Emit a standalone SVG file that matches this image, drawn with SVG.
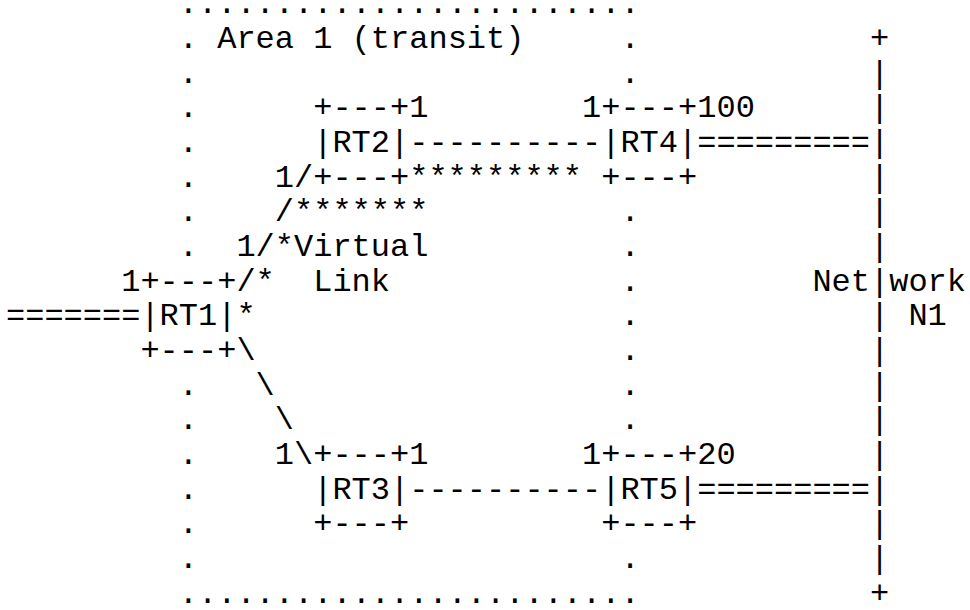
<svg xmlns="http://www.w3.org/2000/svg" width="970" height="610" viewBox="0 0 970 610" xml:space="preserve">
<style>
text { font-family: "Liberation Mono", "DejaVu Sans Mono", monospace; font-size: 32px; fill: #000; white-space: pre; }
</style>
<rect x="0" y="0" width="970" height="610" fill="#fff"/>
<g id="area1">
  <text x="178.8" y="13.3">........................</text>
  <text x="178.8" y="602.52">........................</text>
  <text x="178.8"><tspan x="178.8" y="47.96">.</tspan><tspan x="178.8" y="82.62">.</tspan><tspan x="178.8" y="117.28">.</tspan><tspan x="178.8" y="151.94">.</tspan><tspan x="178.8" y="186.6">.</tspan><tspan x="178.8" y="221.26">.</tspan><tspan x="178.8" y="255.92">.</tspan><tspan x="178.8" y="394.56">.</tspan><tspan x="178.8" y="429.22">.</tspan><tspan x="178.8" y="463.88">.</tspan><tspan x="178.8" y="498.54">.</tspan><tspan x="178.8" y="533.2">.</tspan><tspan x="178.8" y="567.86">.</tspan></text>
  <text x="620.4"><tspan x="620.4" y="47.96">.</tspan><tspan x="620.4" y="82.62">.</tspan><tspan x="620.4" y="221.26">.</tspan><tspan x="620.4" y="255.92">.</tspan><tspan x="620.4" y="290.58">.</tspan><tspan x="620.4" y="325.24">.</tspan><tspan x="620.4" y="359.9">.</tspan><tspan x="620.4" y="394.56">.</tspan><tspan x="620.4" y="429.22">.</tspan><tspan x="620.4" y="567.86">.</tspan></text>
  <text x="217.2" y="47.96">Area 1 (transit)</text>
</g>
<g id="N1">
  <text x="870" y="47.96">+</text>
  <text x="870"><tspan x="870" y="82.62">|</tspan><tspan x="870" y="117.28">|</tspan><tspan x="870" y="151.94">|</tspan><tspan x="870" y="186.6">|</tspan><tspan x="870" y="221.26">|</tspan><tspan x="870" y="255.92">|</tspan><tspan x="870" y="290.58">|</tspan><tspan x="870" y="325.24">|</tspan><tspan x="870" y="359.9">|</tspan><tspan x="870" y="394.56">|</tspan><tspan x="870" y="429.22">|</tspan><tspan x="870" y="463.88">|</tspan><tspan x="870" y="498.54">|</tspan><tspan x="870" y="533.2">|</tspan><tspan x="870" y="567.86">|</tspan></text>
  <text x="870" y="602.52">+</text>
  <text x="812.4" y="290.58">Net</text>
  <text x="889.2" y="290.58">work</text>
  <text x="908.4" y="325.24">N1</text>
</g>
<g id="RT1">
  <text x="121.2" y="290.58">1+---+</text>
  <text x="140.4" y="325.24">|RT1|</text>
  <text x="140.4" y="359.9">+---+</text>
</g>
<g id="RT2">
  <text x="313.2" y="117.28">+---+1</text>
  <text x="313.2" y="151.94">|RT2|</text>
  <text x="274.8" y="186.6">1</text>
  <text x="313.2" y="186.6">+---+</text>
</g>
<g id="RT3">
  <text x="274.8" y="463.88">1</text>
  <text x="313.2" y="463.88">+---+1</text>
  <text x="313.2" y="498.54">|RT3|</text>
  <text x="313.2" y="533.2">+---+</text>
</g>
<g id="RT4">
  <text x="582" y="117.28">1+---+100</text>
  <text x="601.2" y="151.94">|RT4|</text>
  <text x="601.2" y="186.6">+---+</text>
</g>
<g id="RT5">
  <text x="582" y="463.88">1+---+20</text>
  <text x="601.2" y="498.54">|RT5|</text>
  <text x="601.2" y="533.2">+---+</text>
</g>
<g id="connectors">
  <text x="409.2" y="151.94">----------</text>
  <text x="697.2" y="151.94">=========</text>
  <text x="409.2" y="498.54">----------</text>
  <text x="697.2" y="498.54">=========</text>
  <text x="6" y="325.24">=======</text>
  <text x="294" y="186.6">/</text>
  <text x="274.8" y="221.26">/</text>
  <text x="236.4" y="255.92">1/</text>
  <text x="236.4" y="290.58">/</text>
  <text x="236.4" y="359.9">\</text>
  <text x="255.6" y="394.56">\</text>
  <text x="274.8" y="429.22">\</text>
  <text x="294" y="463.88">\</text>
  <g id="virtual-link">
    <text x="409.2" y="186.6">*********</text>
    <text x="294" y="221.26">*******</text>
    <text x="274.8" y="255.92">*</text>
    <text x="255.6" y="290.58">*</text>
    <text x="236.4" y="325.24">*</text>
    <text x="294" y="255.92">Virtual</text>
    <text x="313.2" y="290.58">Link</text>
  </g>
</g>
</svg>
